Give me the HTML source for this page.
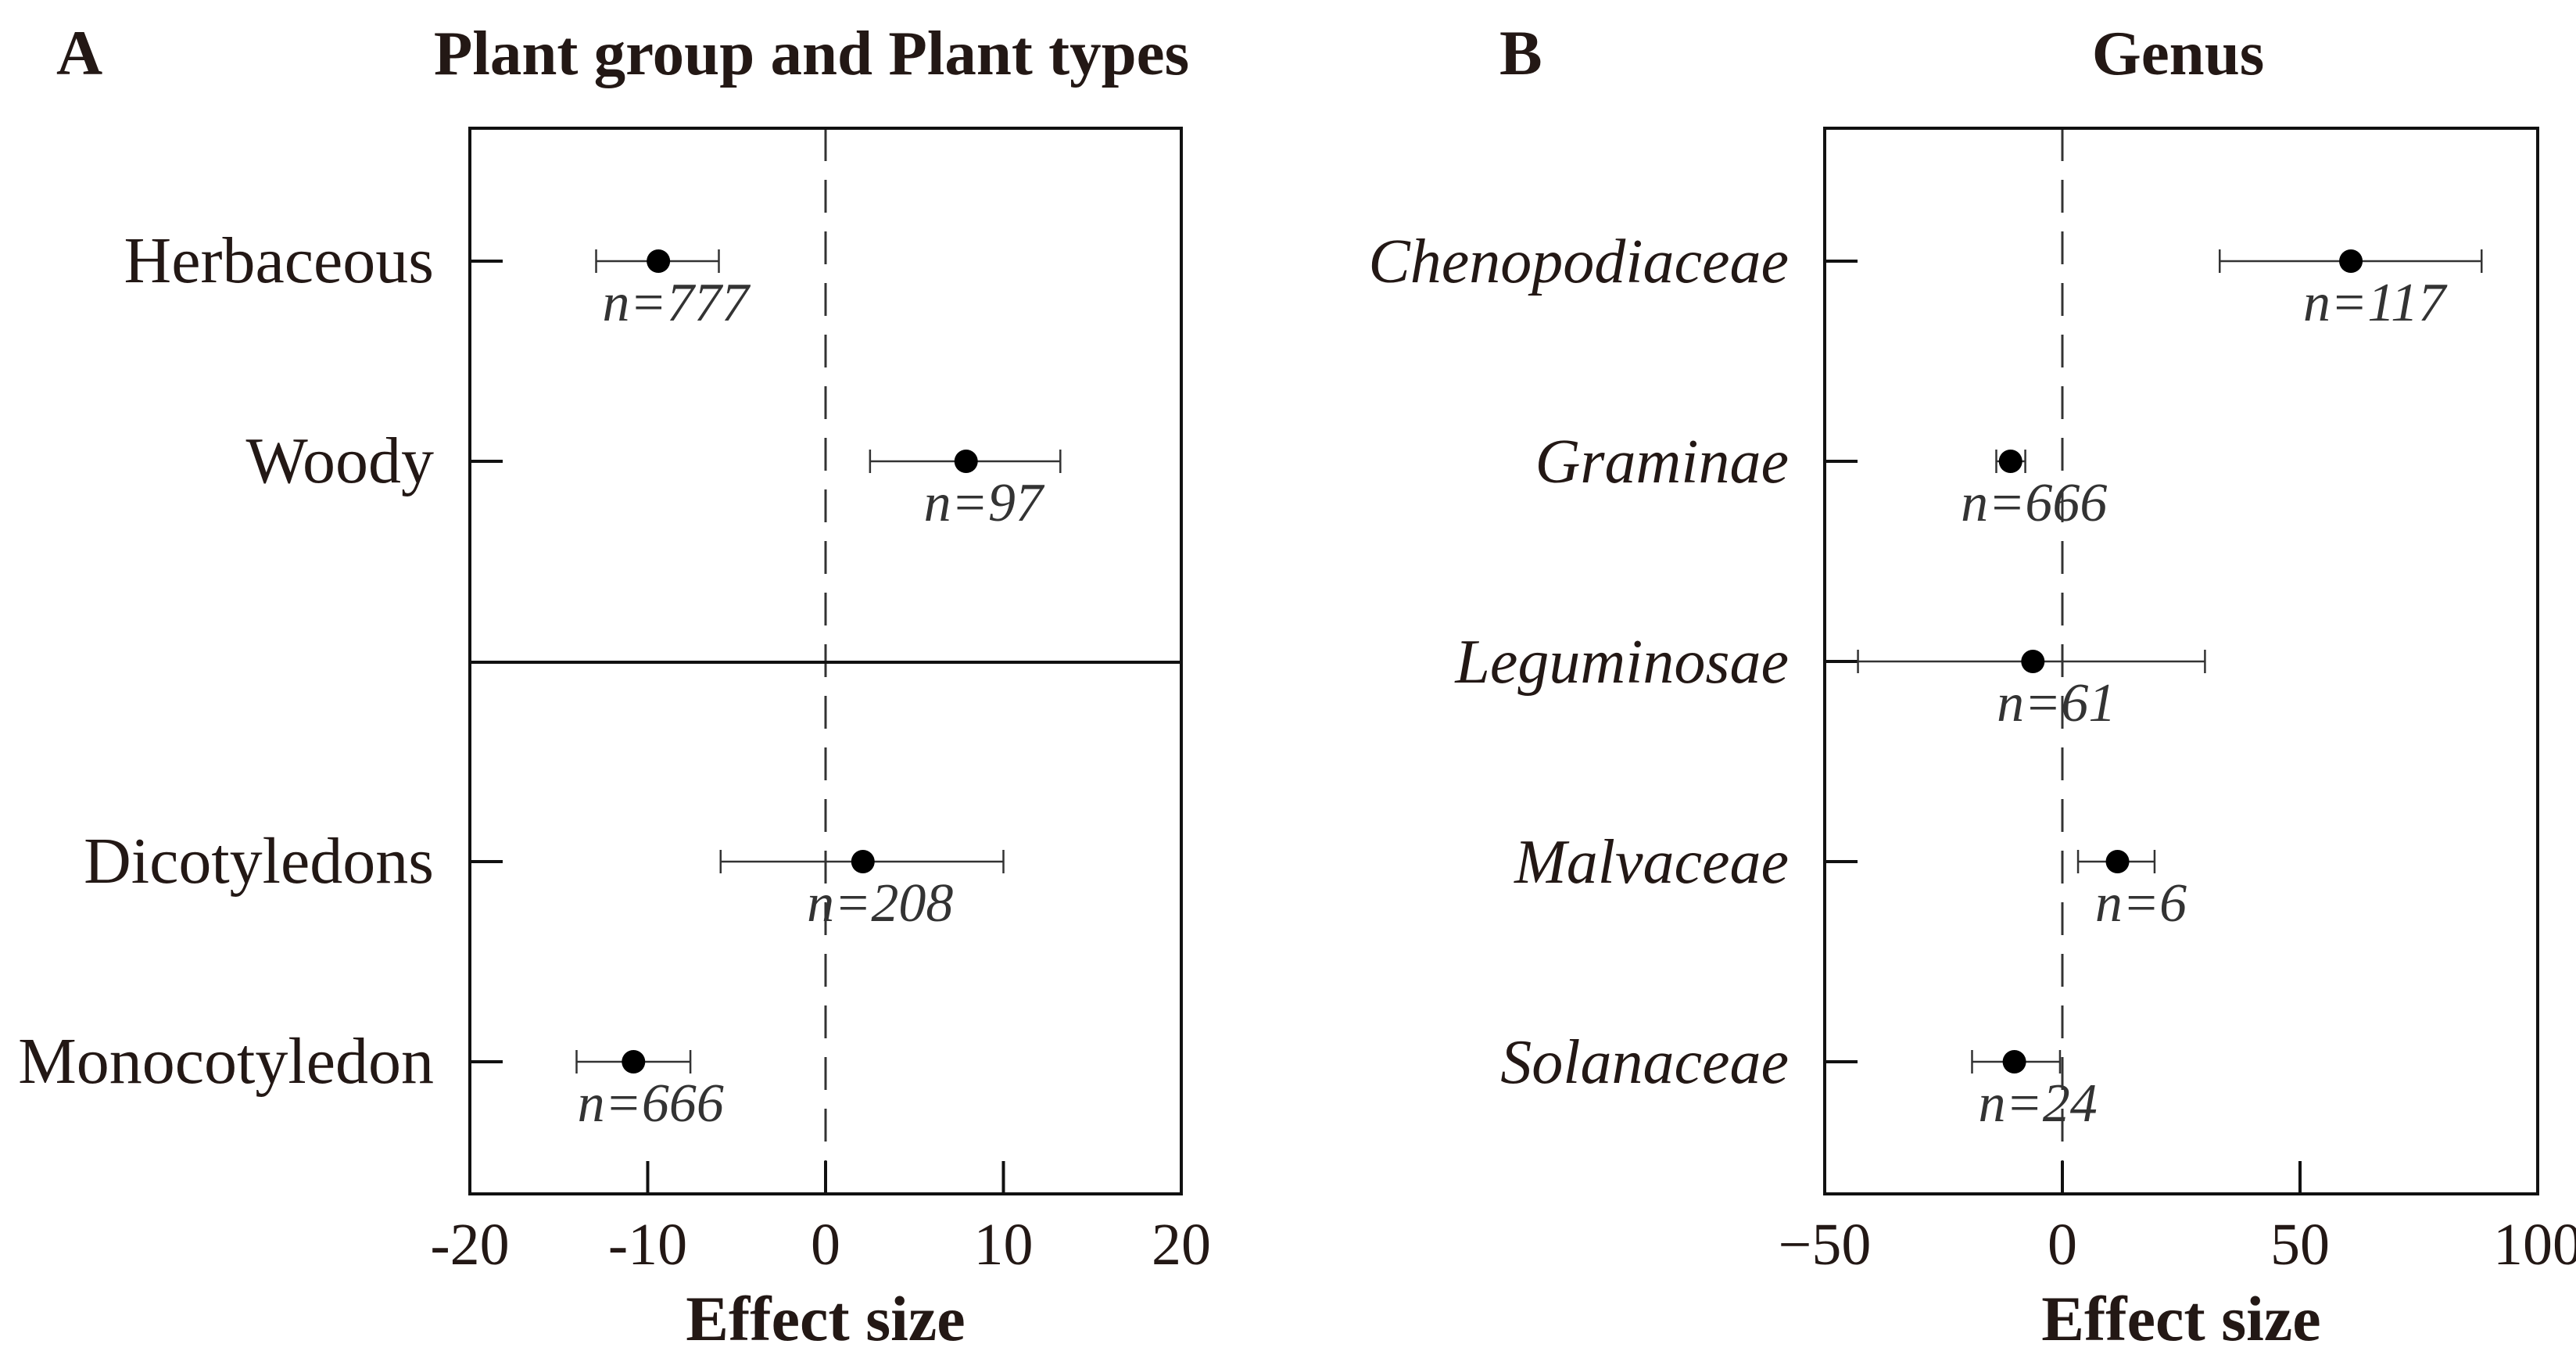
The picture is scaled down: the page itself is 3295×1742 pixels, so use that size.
<!DOCTYPE html>
<html><head><meta charset="utf-8"><style>
html,body{margin:0;padding:0;background:#fff}
svg{display:block;font-family:"Liberation Serif","DejaVu Serif",serif}
</style></head><body>
<svg id="chart" width="3295" height="1742" viewBox="0 0 3295 1742" xmlns="http://www.w3.org/2000/svg">
<g id="pa"></g>
<g id="pb"></g>
</svg>
<script>
const catsA = ["Herbaceous","Woody","Dicotyledons","Monocotyledon"];
const rowsA = [0,1,3,4];
const meanA = [-9.4, 7.9, 2.1, -10.8];
const lowA = [-12.9, 2.5, -5.9, -14.0];
const highA = [-6.0, 13.2, 10.0, -7.6];
const nA = ["n=777","n=97","n=208","n=666"];
const ticksA = [-20,-10,0,10,20];
const tickLabelsA = ["-20","-10","0","10","20"];

const catsB = ["Chenopodiaceae","Graminae","Leguminosae","Malvaceae","Solanaceae"];
const rowsB = [0,1,2,3,4];
const meanB = [60.7, -10.9, -6.2, 11.6, -10.1];
const lowB = [33.1, -13.9, -43, 3.3, -19];
const highB = [88.2, -7.8, 30, 19.4, -0.5];
const nB = ["n=117","n=666","n=61","n=6","n=24"];
const ticksB = [-50,0,50,100];
const tickLabelsB = ["\u221250","0","50","100"];

const NS="http://www.w3.org/2000/svg";
function mk(parent,tag,attrs,text){const e=document.createElementNS(NS,tag);for(const k in attrs)e.setAttribute(k,attrs[k]);if(text!==undefined)e.textContent=text;parent.appendChild(e);return e;}
const rowY = r => 334 + r*256;

function panel(g,cfg){
  const {x0,x1,dmin,dmax,cats,rows,mean,low,high,ns,ticks,tlabels,italic,title,titleX,letter,letterX,divider,catSize,nOff}=cfg;
  const sx = v => x0 + (v-dmin)/(dmax-dmin)*(x1-x0);
  const top=164,bot=1527;
  let e;
  e=mk(g,"text",{x:letterX,y:95,"font-size":82,"font-weight":"bold",fill:"#231815"},letter);
  
  
  e=mk(g,"text",{x:titleX,y:95,"font-size":81,"font-weight":"bold","text-anchor":"middle",fill:"#231815"},title);
  
  
  e=mk(g,"line",{x1:sx(0),x2:sx(0),y1:top,y2:bot,stroke:"#333","stroke-width":3,"stroke-dasharray":"42,24"});
  
  
  e=mk(g,"rect",{x:x0,y:top,width:x1-x0,height:bot-top,fill:"none",stroke:"#111","stroke-width":4});
  
  
  if(divider){
    e=mk(g,"line",{x1:x0,x2:x1,y1:847,y2:847,stroke:"#111","stroke-width":4});
    
    
  }
  ticks.forEach((t,i)=>{
    e=mk(g,"line",{x1:sx(t),x2:sx(t),y1:bot,y2:bot-42,stroke:"#111","stroke-width":4});
    
    
    e=mk(g,"text",{x:sx(t),y:1617,"font-size":76,"text-anchor":"middle",fill:"#231815"},tlabels[i]);
    
    
  });
  e=mk(g,"text",{x:(x0+x1)/2,y:1714,"font-size":82,"font-weight":"bold","text-anchor":"middle",fill:"#231815"},"Effect size");
  
  
  cats.forEach((c,i)=>{
    const y=rowY(rows[i]);
    e=mk(g,"line",{x1:x0,x2:x0+42,y1:y,y2:y,stroke:"#111","stroke-width":4});
    
    
    e=mk(g,"text",{x:x0-46,y:y+27,"font-size":catSize,"text-anchor":"end",fill:"#231815","font-style":italic?"italic":"normal"},c);
    
    
    e=mk(g,"line",{x1:sx(low[i]),x2:sx(high[i]),y1:y,y2:y,stroke:"#333","stroke-width":2.5});
    
    
    [low[i],high[i]].forEach(v=>{
      e=mk(g,"line",{x1:sx(v),x2:sx(v),y1:y-15,y2:y+15,stroke:"#333","stroke-width":2.5});
      
      
    });
    e=mk(g,"circle",{cx:sx(mean[i]),cy:y,r:15,fill:"#000"});
    
    
    e=mk(g,"text",{x:sx(mean[i])+nOff,y:y+76,"font-size":70,"font-style":"italic","text-anchor":"middle",fill:"#333"},ns[i]);
    
    
  });
}
panel(document.getElementById("pa"),{x0:601,x1:1511,dmin:-20,dmax:20,cats:catsA,rows:rowsA,mean:meanA,low:lowA,high:highA,ns:nA,ticks:ticksA,tlabels:tickLabelsA,italic:false,title:"Plant group and Plant types",titleX:1038,letter:"A",letterX:72,divider:true,catSize:84,nOff:22});
panel(document.getElementById("pb"),{x0:2334,x1:3246,dmin:-50,dmax:100,cats:catsB,rows:rowsB,mean:meanB,low:lowB,high:highB,ns:nB,ticks:ticksB,tlabels:tickLabelsB,italic:true,title:"Genus",titleX:2786,letter:"B",letterX:1918,divider:false,catSize:80,nOff:30});
</script>
</body></html>
